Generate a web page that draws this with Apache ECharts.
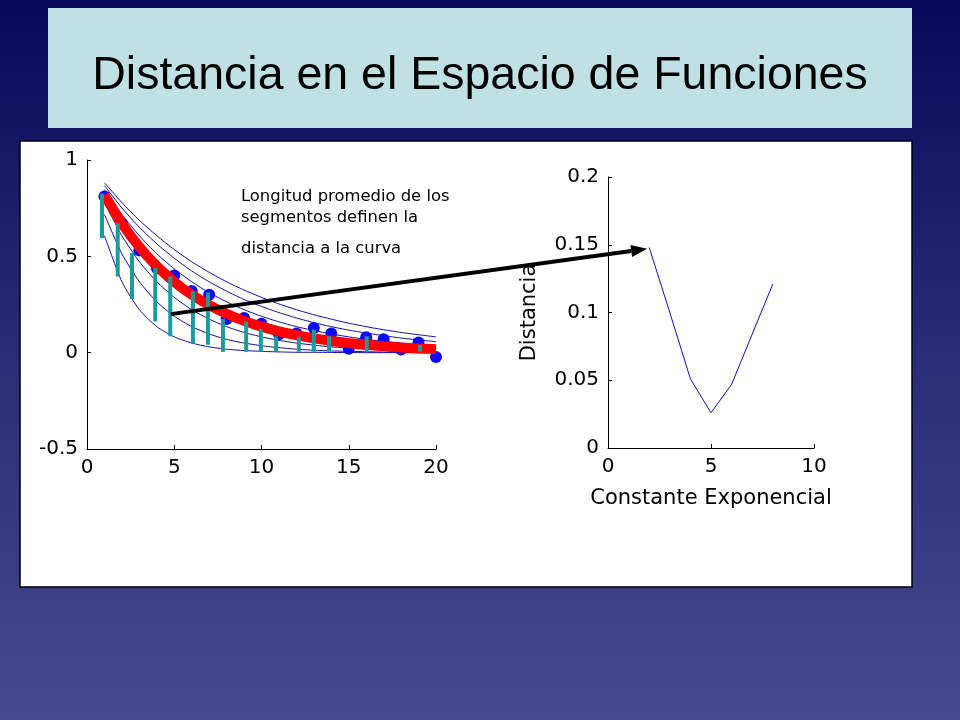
<!DOCTYPE html>
<html>
<head>
<meta charset="utf-8">
<script src="https://cdn.jsdelivr.net/npm/echarts@6/dist/echarts.min.js"></script>
<style>
html,body{margin:0;padding:0;width:960px;height:720px;overflow:hidden;}
#c{width:960px;height:720px;}
</style>
</head>
<body>
<div id="c"></div>
<script>
// ---------- data ----------
const titleText = 'Distancia en el Espacio de Funciones';
const noteLines = ['Longitud promedio de los', 'segmentos definen la', 'distancia a la curva'];
const xLabelRight = 'Constante Exponencial';
const yLabelRight = 'Distancia';

const sampleX = [1,2,3,4,5,6,7,8,9,10,11,12,13,14,15,16,17,18,19,20];
const dataPoints = [0.81,0.67,0.53,0.44,0.40,0.32,0.30,0.175,0.18,0.15,0.095,0.10,0.128,0.10,0.02,0.08,0.07,0.016,0.053,-0.022];

// family of candidate exponential curves (constants 2..8)
const curveC2 = [0.607,0.368,0.223,0.135,0.082,0.050,0.030,0.018,0.011,0.007,0.004,0.002,0.002,0.001,0.001,0.000,0.000,0.000,0.000,0.000];
const curveC3 = [0.717,0.513,0.368,0.264,0.189,0.135,0.097,0.069,0.050,0.036,0.026,0.018,0.013,0.009,0.007,0.005,0.003,0.002,0.002,0.001];
const curveC4 = [0.779,0.607,0.472,0.368,0.287,0.223,0.174,0.135,0.105,0.082,0.064,0.050,0.039,0.030,0.024,0.018,0.014,0.011,0.009,0.007];
const curveC5 = [0.819,0.670,0.549,0.449,0.368,0.301,0.247,0.202,0.165,0.135,0.111,0.091,0.074,0.061,0.050,0.041,0.033,0.027,0.022,0.018];
const curveC6 = [0.846,0.717,0.607,0.513,0.435,0.368,0.311,0.264,0.223,0.189,0.160,0.135,0.115,0.097,0.082,0.069,0.059,0.050,0.042,0.036];
const curveC7 = [0.867,0.751,0.651,0.565,0.490,0.424,0.368,0.319,0.276,0.240,0.208,0.180,0.156,0.135,0.117,0.102,0.088,0.076,0.066,0.057];
const curveC8 = [0.882,0.779,0.687,0.607,0.535,0.472,0.417,0.368,0.325,0.287,0.253,0.223,0.197,0.174,0.153,0.135,0.119,0.105,0.093,0.082];
const thinCurves = [curveC2, curveC3, curveC4, curveC5, curveC6, curveC7, curveC8];
const bestFit = [0.819,0.670,0.549,0.449,0.368,0.301,0.247,0.202,0.165,0.135,0.111,0.091,0.074,0.061,0.050,0.041,0.033,0.027,0.022,0.018];

// segments: x, top, bottom
const segX      = [0.86,1.76,2.58,3.91,4.77,6.07,6.93,7.79,9.12,9.96,10.84,12.14,13.0,13.87,16.03,19.08];
const segTop    = [0.825,0.672,0.517,0.439,0.395,0.318,0.313,0.175,0.162,0.122,0.085,0.083,0.12,0.085,0.085,0.041];
const segBottom = [0.594,0.395,0.278,0.162,0.085,0.047,0.041,0.004,0.004,0.005,0.005,0.005,0.005,0.005,0.005,0.005];

// right plot
const constX = [2,3,4,5,6,7,8];
const distance = [0.148,0.100,0.051,0.026,0.047,0.084,0.121];

// ticks
const leftXTicks = [0,5,10,15,20];
const leftYTicks = [-0.5,0,0.5,1];
const rightXTicks = [0,5,10];
const rightYTicks = [0,0.05,0.1,0.15,0.2];

// arrow endpoints (data coords in left grid -> right grid)
const arrowFrom = [4.8, 0.2];
const arrowTo = [1.9, 0.147];

// ---------- chart ----------
const chart = echarts.init(document.getElementById('c'), null, {renderer:'canvas'});
const tickFont = {fontFamily:'DejaVu Sans', fontSize:20, color:'#000'};
const pair = (xs, ys) => xs.map((x,i)=>[x, ys[i]]);

function axisCommon(extra){
  return Object.assign({
    axisLine:{show:true, onZero:false, lineStyle:{color:'#000', width:1}},
    axisTick:{show:true, inside:true, length:4, lineStyle:{color:'#000'}},
    splitLine:{show:false},
    axisLabel:Object.assign({margin:9}, tickFont)
  }, extra);
}

const series = [];
thinCurves.forEach((c, i) => {
  series.push({type:'line', xAxisIndex:0, yAxisIndex:0, data:pair(sampleX, c), showSymbol:false,
    smooth:0.2, lineStyle:{color:'#0c0ca8', width:1}, z:1, silent:true});
});
series.push({type:'scatter', xAxisIndex:0, yAxisIndex:0, data:pair(sampleX, dataPoints),
  symbol:'circle', symbolSize:12, itemStyle:{color:'#0a0aff', opacity:1}, z:2});
series.push({type:'line', xAxisIndex:0, yAxisIndex:0, data:pair(sampleX, bestFit), showSymbol:false,
  smooth:0.2, lineStyle:{color:'#ff0000', width:10, cap:'butt'}, z:3});
series.push({type:'custom', xAxisIndex:0, yAxisIndex:0,
  data: segX.map((x,i)=>[x, segTop[i], segBottom[i]]),
  encode:{x:0, y:[1,2]}, z:4,
  renderItem:(params, api)=>{
    const p1 = api.coord([api.value(0), api.value(1)]);
    const p2 = api.coord([api.value(0), api.value(2)]);
    return {type:'line', shape:{x1:p1[0], y1:p1[1], x2:p2[0], y2:p2[1]},
      style:{stroke:'#1b9c9c', lineWidth:4}};
  }});
series.push({type:'line', xAxisIndex:1, yAxisIndex:1, data:pair(constX, distance), showSymbol:false,
  lineStyle:{color:'#1010c8', width:1}, z:2});

chart.setOption({
  animation:false,
  backgroundColor:{type:'linear', x:0, y:0, x2:0, y2:1,
    colorStops:[{offset:0, color:'#08085a'},{offset:0.5, color:'#2c2c76'},{offset:1, color:'#48488e'}]},
  grid:[
    {left:87, top:160, width:349, height:289},
    {left:608, top:177, width:206, height:271}
  ],
  xAxis:[
    axisCommon({type:'value', gridIndex:0, min:leftXTicks[0], max:leftXTicks[leftXTicks.length-1], interval:5}),
    axisCommon({type:'value', gridIndex:1, min:rightXTicks[0], max:rightXTicks[rightXTicks.length-1], interval:5,
      name:xLabelRight, nameLocation:'middle', nameGap:40,
      nameTextStyle:{fontFamily:'DejaVu Sans', fontSize:21, color:'#000'}})
  ],
  yAxis:[
    axisCommon({type:'value', gridIndex:0, min:leftYTicks[0], max:leftYTicks[leftYTicks.length-1], interval:0.5}),
    axisCommon({type:'value', gridIndex:1, min:rightYTicks[0], max:rightYTicks[rightYTicks.length-1], interval:0.05,
      name:yLabelRight, nameLocation:'middle', nameGap:68, nameRotate:90,
      nameTextStyle:{fontFamily:'DejaVu Sans', fontSize:21, color:'#000'}})
  ],
  graphic:{elements:[
    {id:'titleBox', type:'rect', z:-10, shape:{x:48, y:8, width:864, height:120}, style:{fill:'#bfe1e4'}},
    {id:'panel', type:'rect', z:-10, shape:{x:20, y:141, width:892, height:446}, style:{fill:'#ffffff', stroke:'#000', lineWidth:1.5}},
    {id:'title', type:'text', z:50, x:480, y:76, style:{text:titleText, fontFamily:'Liberation Sans', fontSize:46.5,
      fill:'#000', align:'center', verticalAlign:'middle'}},
    {id:'n0', type:'text', z:50, x:241, y:196.5, style:{text:noteLines[0], fontFamily:'DejaVu Sans', fontSize:16.4, fill:'#000', verticalAlign:'middle'}},
    {id:'n1', type:'text', z:50, x:241, y:217.5, style:{text:noteLines[1], fontFamily:'DejaVu Sans', fontSize:16.4, fill:'#000', verticalAlign:'middle'}},
    {id:'n2', type:'text', z:50, x:241, y:249, style:{text:noteLines[2], fontFamily:'DejaVu Sans', fontSize:16.4, fill:'#000', verticalAlign:'middle'}}
  ]},
  series:series
});

// arrow from left plot to right plot
const a = chart.convertToPixel({gridIndex:0}, arrowFrom);
const b = chart.convertToPixel({gridIndex:1}, arrowTo);
const ang = Math.atan2(b[1]-a[1], b[0]-a[0]);
const headLen = 16, headW = 6;
const base = [b[0]-headLen*Math.cos(ang), b[1]-headLen*Math.sin(ang)];
const nx = -Math.sin(ang), ny = Math.cos(ang);
chart.setOption({graphic:{elements:[
  {id:'arrowLine', type:'line', z:100, shape:{x1:a[0], y1:a[1], x2:base[0], y2:base[1]}, style:{stroke:'#000', lineWidth:4}},
  {id:'arrowHead', type:'polygon', z:100, shape:{points:[b, [base[0]+nx*headW, base[1]+ny*headW], [base[0]-nx*headW, base[1]-ny*headW]]}, style:{fill:'#000'}}
]}});
</script>
</body>
</html>
